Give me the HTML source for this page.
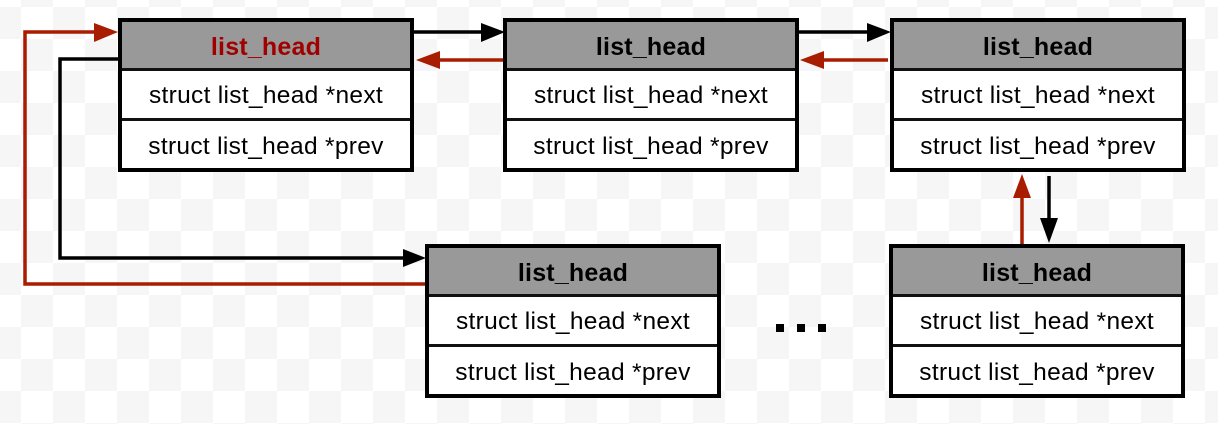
<!DOCTYPE html>
<html><head><style>
html,body{margin:0;padding:0}
body{width:1218px;height:424px;position:relative;overflow:hidden;
background-color:#fff;
background-image:
linear-gradient(45deg,#f6f6f6 25%,transparent 25%,transparent 75%,#f6f6f6 75%),
linear-gradient(45deg,#f6f6f6 25%,transparent 25%,transparent 75%,#f6f6f6 75%);
background-size:64px 64px;background-position:21px 7px,53px 39px;
font-family:"Liberation Sans",sans-serif}
.box{position:absolute;width:296px;height:154px;box-sizing:border-box;border:4px solid #000;background:#fff}
.h{height:49px;background:#999;border-bottom:3px solid #111;box-sizing:border-box;text-align:center;font-weight:bold;font-size:25px;line-height:50px;color:#000;letter-spacing:0.2px}
.r{height:50px;box-sizing:border-box;text-align:center;font-size:24.5px;line-height:52px;color:#000;letter-spacing:0.3px;white-space:nowrap}
.r1{border-bottom:3px solid #111;line-height:50px}
svg{position:absolute;left:0;top:0}
</style></head><body>
<svg width="1218" height="424">
<g stroke-width="3.5" fill="none">
<polyline points="414,32 490,32" stroke="#000"/>
<polyline points="798,32 876,32" stroke="#000"/>
<polyline points="503,60 430,60" stroke="#a81c00"/>
<polyline points="888,60 814,60" stroke="#a81c00"/>
<polyline points="118,59 60,59 60,258 410,258" stroke="#000"/>
<polyline points="425,284 25,284 25,32 104,32" stroke="#a81c00"/>
<polyline points="1022,244 1022,190" stroke="#a81c00"/>
<polyline points="1049,176 1049,228" stroke="#000"/>
</g>
<path d="M481,23 L505,32 L481,42z" fill="#000"/>
<path d="M867,23 L891,32 L867,42z" fill="#000"/>
<path d="M440,51 L416,60 L440,69z" fill="#a81c00"/>
<path d="M824,51 L800,60 L824,69z" fill="#a81c00"/>
<path d="M403,249 L426,258 L403,267z" fill="#000"/>
<path d="M94,23 L118,32 L94,42z" fill="#a81c00"/>
<path d="M1013,198 L1022,174 L1031,198z" fill="#a81c00"/>
<path d="M1040,218 L1049,243 L1058,218z" fill="#000"/>
<rect x="776" y="324" width="8" height="8" fill="#000"/>
<rect x="797" y="324" width="8" height="8" fill="#000"/>
<rect x="818" y="324" width="8" height="8" fill="#000"/>
</svg>
<div class="box" style="left:118px;top:18px"><div class="h" style="color:#a00000">list_head</div><div class="r r1">struct list_head *next</div><div class="r">struct list_head *prev</div></div>
<div class="box" style="left:503px;top:18px"><div class="h">list_head</div><div class="r r1">struct list_head *next</div><div class="r">struct list_head *prev</div></div>
<div class="box" style="left:890px;top:18px"><div class="h">list_head</div><div class="r r1">struct list_head *next</div><div class="r">struct list_head *prev</div></div>
<div class="box" style="left:425px;top:244px"><div class="h">list_head</div><div class="r r1">struct list_head *next</div><div class="r">struct list_head *prev</div></div>
<div class="box" style="left:889px;top:244px"><div class="h">list_head</div><div class="r r1">struct list_head *next</div><div class="r">struct list_head *prev</div></div>
</body></html>
